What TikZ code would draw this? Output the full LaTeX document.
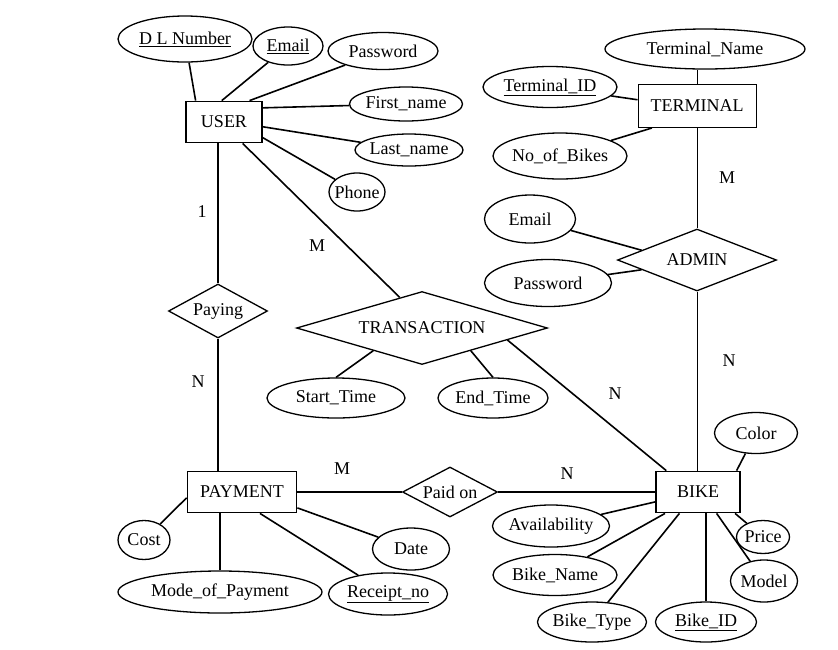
\documentclass[tikz,border=0pt]{standalone}
\usepackage{fontspec}
\setmainfont{Liberation Serif}
\usetikzlibrary{shapes.geometric}
\newcommand\erfont{\fontsize{18}{21}\selectfont}

\begin{document}
\begin{tikzpicture}[x=1pt, y=-1pt,
    entity/.style={draw, line width=1.8pt, inner sep=0pt, minimum height=41pt, font=\erfont},
    attr/.style={draw, ellipse, line width=1.3pt, inner xsep=-6pt, inner ysep=0pt, font=\erfont},
    rel/.style={draw, diamond, line width=1.3pt, inner sep=0pt, font=\erfont},
    card/.style={font=\erfont},
    conn/.style={line width=1.6pt},
    thinconn/.style={line width=1pt}]
    \useasboundingbox (0,0) rectangle (838,649);
    % entities
    \node[entity, minimum width=76pt] (user) at (224,122) {USER};
    \node[entity, minimum width=118pt, minimum height=43pt, line width=1pt] (terminal) at (697,106) {TERMINAL};
    \node[entity, minimum width=109pt] (payment) at (242,492) {PAYMENT};
    \node[entity, minimum width=84pt] (bike) at (698,492) {BIKE};
    % relationships
    \node[rel, aspect=2.56, minimum width=159pt, minimum height=62pt] (admin) at (697,260) {ADMIN};
    \node[rel, aspect=1.83, minimum width=99pt, minimum height=54pt] (paying) at (218,311) {Paying};
    \node[rel, aspect=3.44, minimum width=251pt, minimum height=73pt] (transaction) at (422,328) {TRANSACTION};
    \node[rel, aspect=1.9, minimum width=95pt, minimum height=50pt] (paidon) at (450,492) {Paid on};
    % attributes of USER
    \node[attr, minimum width=134pt, minimum height=46pt] (dlnumber) at (185,39) {\underline{D L Number}};
    \node[attr, minimum width=70pt, minimum height=38pt] (uemail) at (288,46) {\underline{Email}};
    \node[attr, minimum width=110pt, minimum height=37pt] (upassword) at (383,51) {Password};
    \node[attr, minimum width=113pt, minimum height=34pt] (firstname) at (406,104) {First\_name};
    \node[attr, minimum width=108pt, minimum height=32pt] (lastname) at (409,150) {Last\_name};
    \node[attr, minimum width=56pt, minimum height=38pt] (phone) at (357,192) {Phone};
    % attributes of TERMINAL and ADMIN
    \node[attr, minimum width=200pt, minimum height=40pt] (termname) at (705,49) {Terminal\_Name};
    \node[attr, minimum width=134pt, minimum height=41pt] (termid) at (550,87) {\underline{Terminal\_ID}};
    \node[attr, minimum width=134pt, minimum height=46pt] (nobikes) at (560,156) {No\_of\_Bikes};
    \node[attr, minimum width=91pt, minimum height=48pt] (aemail) at (530,219) {Email};
    \node[attr, minimum width=127pt, minimum height=47pt] (apassword) at (548,283) {Password};
    % attributes of TRANSACTION
    \node[attr, minimum width=138pt, minimum height=40pt] (starttime) at (336,398) {Start\_Time};
    \node[attr, minimum width=110pt, minimum height=40pt] (endtime) at (493,398) {End\_Time};
    % attributes of PAYMENT
    \node[attr, minimum width=52pt, minimum height=39pt] (cost) at (144,540) {Cost};
    \node[attr, minimum width=204pt, minimum height=42pt] (modepay) at (220,592) {Mode\_of\_Payment};
    \node[attr, minimum width=119pt, minimum height=42pt] (receipt) at (388,594) {\underline{Receipt\_no}};
    \node[attr, minimum width=77pt, minimum height=42pt] (date) at (411,549) {Date};
    % attributes of BIKE
    \node[attr, minimum width=83pt, minimum height=41pt] (color) at (756,433) {Color};
    \node[attr, minimum width=117pt, minimum height=42pt] (avail) at (551,526) {Availability};
    \node[attr, minimum width=53pt, minimum height=33pt] (price) at (763,537) {Price};
    \node[attr, minimum width=124pt, minimum height=41pt] (bikename) at (555,575) {Bike\_Name};
    \node[attr, minimum width=67pt, minimum height=42pt] (model) at (764,581) {Model};
    \node[attr, minimum width=109pt, minimum height=40pt] (biketype) at (592,622) {Bike\_Type};
    \node[attr, minimum width=101pt, minimum height=40pt] (bikeid) at (706,622) {\underline{Bike\_ID}};
    % cardinalities
    \node[card] (c1) at (202,212) {1};
    \node[card] (c2) at (317,246) {M};
    \node[card] (c3) at (198,382) {N};
    \node[card] (c4) at (342,469) {M};
    \node[card] (c5) at (567,474) {N};
    \node[card] (c6) at (615,394) {N};
    \node[card] (c7) at (727,178) {M};
    \node[card] (c8) at (729,361) {N};
    % connectors
    \draw[conn] (dlnumber) -- (user.143);
    \draw[conn] (uemail) -- (user.96);
    \draw[conn] (upassword) -- (user.40);
    \draw[conn] (firstname) -- (user.20);
    \draw[conn] (lastname) -- (user.-7);
    \draw[conn] (phone) -- (user.-22);
    \draw[conn] (paying.north) -- (paying.north |- user.south);
    \draw[conn] (user.-49) -- (transaction.126);
    \draw[conn] (paying.south) -- (paying.south |- payment.north);
    \draw[thinconn] (terminal.north) -- (terminal.north |- termname.south);
    \draw[conn] (termid) -- (terminal.174);
    \draw[conn] (nobikes) -- (terminal.206);
    \draw[thinconn] (terminal.south) -- (admin.north);
    \draw[conn] (aemail) -- (admin.170);
    \draw[conn] (apassword) -- (admin.190);
    \draw[thinconn] (admin.south) -- (admin.south |- bike.north);
    \draw[conn] (starttime.north) -- (transaction.205);
    \draw[conn] (endtime.north) -- (transaction.335);
    \draw[conn] (transaction.352) -- (bike.146);
    \draw[conn] (payment.east) -- (paidon.west);
    \draw[conn] (paidon.east) -- (bike.west);
    \draw[conn] (cost) -- (payment.186);
    \draw[conn] (modepay.north) -- (modepay.north |- payment.south);
    \draw[conn] (receipt) -- (payment.310);
    \draw[conn] (date) -- (payment.344);
    \draw[conn] (color) -- (bike.29);
    \draw[conn] (avail) -- (bike.193);
    \draw[conn] (bikename) -- (bike.213);
    \draw[conn] (biketype) -- (bike.229);
    \draw[conn] (bikeid.north) -- (bikeid.north |- bike.south);
    \draw[conn] (model) -- (bike.311);
    \draw[conn] (price) -- (bike.330);
\end{tikzpicture}
\end{document}
